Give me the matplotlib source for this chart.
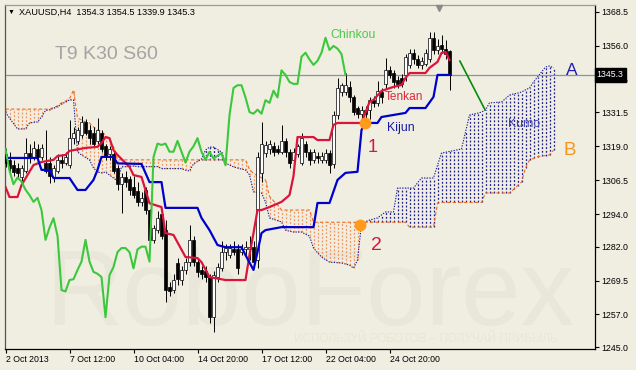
import matplotlib
matplotlib.use("Agg")
import matplotlib.pyplot as plt
import matplotlib.transforms as mtransforms

plt.rcParams['font.family'] = ['Liberation Sans', 'DejaVu Sans']

# ---- data (x = bar index, y = price) ----
opens = [1316.0, 1314.0, 1312.0, 1311.0, 1307.5, 1310.0, 1316.5, 1315.0, 1318.0, 1315.0,
         1313.0, 1313.0, 1307.5, 1310.0, 1314.0, 1313.0, 1312.0, 1322.0, 1321.0, 1323.0,
         1328.0, 1325.0, 1324.0, 1321.0, 1324.0, 1319.0, 1316.0, 1316.0, 1311.0, 1305.0,
         1307.5, 1307.0, 1304.0, 1302.5, 1298.5, 1303.0, 1295.5, 1284.5, 1288.0, 1294.0,
         1288.0, 1267.0, 1266.0, 1276.0, 1269.7, 1273.4, 1276.5, 1284.5, 1276.5, 1273.5,
         1273.0, 1271.0, 1256.0, 1271.0, 1274.0, 1280.0, 1279.0, 1281.0, 1281.0, 1280.0,
         1281.0, 1281.0, 1282.0, 1277.0, 1309.0, 1316.5, 1318.0, 1319.0, 1318.0, 1317.0,
         1321.0, 1317.0, 1314.0, 1316.0, 1313.0, 1320.0, 1317.0, 1314.0, 1315.5, 1314.0,
         1314.0, 1316.5, 1312.5, 1330.5, 1339.0, 1339.0, 1341.0, 1337.0, 1333.0, 1331.0,
         1332.5, 1332.5, 1336.0, 1335.0, 1339.0, 1342.0, 1347.0, 1346.0, 1343.5, 1344.0,
         1345.3, 1349.0, 1353.5, 1351.0, 1349.0, 1349.5, 1351.0, 1359.0, 1354.5, 1356.3,
         1355.0, 1354.3]
highs = [1318.5, 1317.0, 1314.0, 1313.0, 1312.0, 1322.0, 1320.0, 1321.0, 1320.0, 1320.0,
         1325.0, 1315.0, 1312.0, 1316.0, 1316.0, 1317.0, 1328.7, 1326.0, 1326.0, 1330.0,
         1329.0, 1327.0, 1326.0, 1329.5, 1325.0, 1320.0, 1319.0, 1317.0, 1312.0, 1309.0,
         1310.0, 1308.0, 1308.0, 1306.0, 1302.0, 1304.0, 1296.0, 1290.0, 1295.0, 1296.0,
         1292.0, 1269.0, 1272.0, 1278.0, 1275.0, 1278.0, 1290.0, 1286.0, 1278.0, 1275.0,
         1275.0, 1272.0, 1273.0, 1276.0, 1284.0, 1283.0, 1283.0, 1284.0, 1283.0, 1283.0,
         1284.0, 1286.0, 1284.0, 1317.0, 1328.0, 1321.0, 1321.5, 1320.5, 1319.5, 1327.0,
         1322.0, 1318.0, 1318.5, 1320.0, 1324.0, 1321.0, 1318.0, 1318.0, 1317.0, 1317.0,
         1318.0, 1317.5, 1332.0, 1344.0, 1342.5, 1346.0, 1343.0, 1338.0, 1334.0, 1334.0,
         1334.0, 1337.0, 1337.5, 1343.0, 1340.5, 1351.5, 1348.5, 1347.0, 1345.0, 1345.5,
         1353.0, 1355.0, 1355.0, 1352.5, 1352.0, 1355.0, 1361.2, 1361.0, 1358.5, 1360.0,
         1358.0, 1354.5]
lows = [1311.5, 1309.5, 1308.0, 1307.0, 1306.0, 1309.0, 1313.0, 1314.0, 1313.5, 1314.0,
        1309.0, 1305.5, 1306.0, 1309.0, 1311.0, 1312.0, 1311.0, 1320.0, 1320.0, 1322.0,
        1323.0, 1320.0, 1319.0, 1320.0, 1317.0, 1314.0, 1314.0, 1309.0, 1303.0, 1294.5,
        1304.0, 1301.0, 1300.0, 1297.0, 1297.0, 1294.0, 1283.0, 1283.5, 1287.0, 1285.0,
        1261.5, 1264.0, 1265.0, 1268.0, 1268.0, 1272.0, 1275.0, 1275.0, 1271.0, 1270.0,
        1269.0, 1254.0, 1250.5, 1269.0, 1273.0, 1277.0, 1278.0, 1279.0, 1272.0, 1279.0,
        1279.0, 1277.0, 1274.0, 1274.0, 1306.0, 1315.0, 1316.0, 1315.5, 1316.0, 1316.0,
        1315.0, 1311.0, 1312.0, 1315.0, 1312.0, 1315.0, 1312.0, 1313.0, 1313.0, 1313.0,
        1313.0, 1309.0, 1311.0, 1329.0, 1337.5, 1338.0, 1335.5, 1330.5, 1329.5, 1329.0,
        1328.0, 1329.0, 1333.5, 1334.0, 1335.0, 1340.0, 1344.0, 1340.5, 1340.5, 1341.0,
        1343.0, 1348.0, 1349.5, 1348.0, 1347.5, 1348.5, 1350.0, 1353.0, 1353.0, 1353.5,
        1351.0, 1339.9]
closes = [1313.0, 1311.0, 1309.5, 1309.0, 1311.0, 1316.5, 1314.5, 1318.5, 1315.0, 1318.5,
          1310.0, 1308.0, 1311.0, 1314.0, 1313.0, 1315.0, 1322.0, 1324.0, 1325.0, 1328.0,
          1324.0, 1322.0, 1320.0, 1325.0, 1318.0, 1315.0, 1318.0, 1310.0, 1305.0, 1307.5,
          1306.0, 1303.0, 1301.0, 1298.5, 1300.0, 1295.5, 1284.5, 1289.0, 1292.5, 1286.0,
          1266.0, 1265.5, 1269.7, 1270.0, 1273.4, 1276.5, 1284.5, 1276.5, 1272.7, 1272.0,
          1270.8, 1256.0, 1271.5, 1274.5, 1280.0, 1281.5, 1281.5, 1280.0, 1274.0, 1281.0,
          1282.0, 1282.0, 1276.5, 1315.0, 1320.0, 1319.5, 1320.0, 1317.0, 1317.0, 1321.0,
          1317.0, 1313.0, 1317.0, 1319.0, 1322.0, 1317.0, 1314.0, 1317.0, 1314.5, 1315.5,
          1316.5, 1312.0, 1330.5, 1340.5, 1341.5, 1341.5, 1337.0, 1331.6, 1331.0, 1332.5,
          1331.0, 1336.0, 1335.0, 1339.5, 1337.0, 1347.0, 1345.3, 1342.7, 1342.0, 1342.0,
          1352.0, 1353.5, 1351.0, 1349.0, 1350.5, 1353.5, 1359.0, 1354.5, 1356.0, 1355.0,
          1353.0, 1345.3]

tenkan_idx = [0, 1, 3, 4, 7, 9, 12, 13, 15, 16, 20, 23, 24, 25, 26, 27, 28, 31, 32, 34,
              36, 39, 40, 42, 45, 48, 49, 51, 55, 60, 61, 62, 63, 64, 66, 69, 71, 72, 73, 77,
              78, 81, 82, 83, 89, 91, 92, 94, 97, 99, 100, 101, 105, 106, 108, 109, 110, 111]
tenkan_val = [1304.0, 1300.3, 1300.3, 1304.7, 1312.1, 1313.2, 1314.0, 1315.4, 1315.8, 1317.3,
              1318.4, 1318.8, 1320.2, 1322.4, 1322.0, 1317.6, 1315.8, 1311.4, 1308.4, 1307.7,
              1298.0, 1296.6, 1287.0, 1286.3, 1278.2, 1277.8, 1276.3, 1270.8, 1269.7, 1269.7,
              1278.9, 1287.0, 1295.5, 1295.5, 1296.6, 1298.5, 1301.0, 1308.0, 1322.4, 1322.4,
              1321.3, 1321.3, 1326.9, 1327.6, 1327.6, 1335.3, 1336.1, 1339.4, 1340.9, 1341.6,
              1344.2, 1346.0, 1346.0, 1347.9, 1350.1, 1353.4, 1353.8, 1350.8]

kijun_idx = [0, 8, 9, 11, 12, 16, 18, 20, 22, 23, 24, 27, 28, 34, 36, 39, 40, 48, 49, 51,
             53, 55, 59, 60, 62, 63, 64, 65, 69, 77, 78, 81, 83, 85, 88, 89, 90, 93, 94, 100,
             101, 105, 107, 108, 111]
kijun_val = [1314.7, 1314.7, 1310.3, 1310.3, 1307.3, 1307.3, 1302.9, 1302.9, 1306.6, 1310.3,
             1315.1, 1315.1, 1312.7, 1312.5, 1305.8, 1305.8, 1296.3, 1296.3, 1292.6, 1288.1,
             1282.6, 1281.8, 1281.8, 1278.9, 1273.4, 1280.0, 1287.0, 1288.1, 1289.2, 1289.2,
             1298.1, 1298.1, 1306.6, 1309.2, 1309.6, 1325.0, 1327.6, 1327.6, 1329.8, 1331.3,
             1333.1, 1333.1, 1337.2, 1345.3, 1345.3]

# senkou spans, one value per bar (already shifted forward 26 bars)
span_a = [1331.6, 1329.4, 1327.4, 1325.4, 1325.4, 1325.4, 1327.6, 1327.8, 1328.0, 1329.8,
          1332.2, 1332.4, 1333.0, 1333.6, 1334.6, 1335.3, 1336.1, 1336.1, 1316.9, 1315.8,
          1314.9, 1314.0, 1311.0, 1309.5, 1309.2, 1309.5, 1308.4, 1307.3, 1306.2, 1311.4,
          1311.5, 1311.6, 1311.7, 1311.5, 1311.5, 1311.5, 1311.5, 1311.5, 1311.5, 1310.8,
          1310.8, 1310.8, 1310.8, 1310.8, 1310.8, 1310.2, 1309.9, 1312.5, 1313.4, 1314.3,
          1317.6, 1318.7, 1318.7, 1317.8, 1316.9, 1312.8, 1312.1, 1311.4, 1311.0, 1310.6,
          1310.3, 1308.5, 1302.2, 1302.0, 1301.8, 1298.5, 1292.6, 1292.1, 1291.6, 1291.1,
          1288.1, 1287.7, 1287.4, 1287.4, 1287.4, 1286.6, 1285.9, 1281.5, 1279.8, 1278.2,
          1277.2, 1276.3, 1276.2, 1276.1, 1276.0, 1275.6, 1275.2, 1274.1, 1277.0, 1290.5,
          1291.2, 1291.8, 1292.2, 1292.6, 1293.7, 1294.8, 1294.8, 1294.8, 1303.6, 1303.6,
          1303.6, 1303.6, 1303.6, 1305.5, 1307.3, 1307.3, 1307.3, 1307.3, 1312.0, 1316.5,
          1316.8, 1317.1, 1317.4, 1317.7, 1318.0, 1324.3, 1330.5, 1330.9, 1331.2, 1331.6,
          1332.4, 1335.0, 1335.1, 1335.2, 1335.3, 1336.6, 1337.9, 1338.3, 1338.6, 1339.0,
          1339.8, 1340.5, 1342.7, 1344.5, 1346.4, 1348.2, 1348.6, 1347.9]
span_b = [1332.7, 1332.7, 1332.7, 1332.7, 1332.7, 1332.7, 1332.7, 1332.7, 1332.7, 1332.7,
          1332.7, 1332.7, 1333.3, 1333.9, 1335.0, 1335.7, 1336.5, 1339.7, 1329.4, 1328.7,
          1328.0, 1327.6, 1326.1, 1325.2, 1324.3, 1323.2, 1321.3, 1318.7, 1314.0, 1314.0,
          1314.0, 1314.0, 1314.0, 1314.0, 1314.0, 1314.0, 1314.0, 1314.0, 1314.0, 1314.0,
          1314.0, 1314.0, 1314.0, 1314.0, 1314.0, 1314.0, 1314.0, 1314.0, 1314.0, 1314.0,
          1314.0, 1314.0, 1314.0, 1314.0, 1314.0, 1314.0, 1314.0, 1314.0, 1314.0, 1314.0,
          1314.0, 1310.5, 1309.0, 1308.2, 1307.4, 1306.6, 1300.5, 1298.9, 1297.4, 1295.5,
          1295.5, 1295.5, 1295.5, 1295.5, 1295.5, 1295.5, 1295.5, 1291.0, 1291.0, 1291.0,
          1291.0, 1291.0, 1291.0, 1291.0, 1291.0, 1291.0, 1291.0, 1291.0, 1291.0, 1291.0,
          1291.0, 1291.0, 1291.0, 1291.0, 1291.0, 1291.0, 1291.0, 1291.0, 1291.0, 1291.0,
          1291.0, 1289.2, 1289.2, 1289.2, 1289.2, 1289.2, 1289.2, 1289.2, 1298.1, 1298.3,
          1298.3, 1298.3, 1298.3, 1298.3, 1298.3, 1298.3, 1298.3, 1298.3, 1298.3, 1298.3,
          1301.8, 1301.8, 1301.8, 1301.8, 1301.8, 1301.8, 1301.8, 1303.1, 1304.5, 1305.8,
          1311.0, 1314.0, 1314.5, 1315.1, 1315.4, 1315.6, 1315.8, 1317.6]

CHINKOU_SHIFT = 26
date_ticks = [0, 16, 32, 48, 64, 80, 96]
date_labels = ["2 Oct 2013", "7 Oct 12:00", "10 Oct 04:00", "14 Oct 20:00",
               "17 Oct 12:00", "22 Oct 04:00", "24 Oct 20:00"]
price_ticks = [1368.5, 1356.0, 1343.5, 1331.5, 1319.0, 1306.5, 1294.0,
               1282.0, 1269.5, 1257.0, 1245.0]
last_price = 1345.3
cross_points = [(89.9, 1327.6, "1"), (88.6, 1290.0, "2")]   # tenkan/kijun cross, kumo twist
arrow_i = [113.6, 119.9]
arrow_p = [1350.4, 1332.4]

# colours
BG = '#F0EEE1'
WATERMARK = '#E8E7DA'
TENKAN = '#DC143C'
KIJUN = '#0000CD'
CHINKOU = '#3CC83C'
SPAN_A = '#1C1C9C'
SPAN_B = '#F26A22'
HATCH_A = '#1E1E8E'
HATCH_B = '#F2945E'

fig = plt.figure(figsize=(6.36, 3.70), dpi=100, facecolor=BG)
ax = fig.add_axes([5 / 636, 21 / 370, 590 / 636, 344 / 370], facecolor=BG)
ax.set_xlim(-0.125, 147.375)
ax.set_ylim(1244.28, 1371.08)

# watermark
ax.text(9.9, 1253.1, "RoboForex", fontsize=77, color=WATERMARK, zorder=0.2,
        ha='left', va='baseline')
ax.text(72, 1246.8, "ИСПОЛЬЗУЙ РОБОТОВ – ПОЛУЧАЙ ПРИБЫЛЬ", fontsize=8.5,
        color=WATERMARK, zorder=0.2, ha='left', va='baseline')

# kumo: dotted vertical hatch per bar
cloud_x = list(range(len(span_a)))
lo = [min(a, b) for a, b in zip(span_a, span_b)]
hi = [max(a, b) for a, b in zip(span_a, span_b)]
cols = [HATCH_A if a > b else HATCH_B for a, b in zip(span_a, span_b)]
ax.vlines(cloud_x, lo, hi, colors=cols, linewidth=0.9,
          linestyles=(0, (1.5, 1.5)), zorder=1)
ax.plot(cloud_x, span_b, color=SPAN_B, lw=0.8, ls=(0, (3, 2)), zorder=1.5)
ax.plot(cloud_x, span_a, color=SPAN_A, lw=0.8, ls=(0, (1.2, 1.2)), zorder=1.6)

# current price line
ax.axhline(last_price, color='#8A949E', lw=0.9, zorder=2)

# candles
idx = list(range(len(closes)))
ax.vlines(idx, lows, highs, color='black', lw=0.7, zorder=3)
body_lo = [min(o, c) for o, c in zip(opens, closes)]
body_h = [max(abs(c - o), 0.35) for o, c in zip(opens, closes)]
body_c = ['white' if c >= o else 'black' for o, c in zip(opens, closes)]
ax.bar(idx, body_h, bottom=body_lo, width=0.62, color=body_c,
       edgecolor='black', linewidth=0.5, zorder=3.2)

# ichimoku lines
ax.plot(tenkan_idx, tenkan_val, color=TENKAN, lw=1.6, zorder=4)
ax.plot(kijun_idx, kijun_val, color=KIJUN, lw=1.6, zorder=4.1)
ax.plot(idx[:-CHINKOU_SHIFT], closes[CHINKOU_SHIFT:], color=CHINKOU, lw=1.5, zorder=4.2)

# annotations
ax.plot(arrow_i, arrow_p, color='#0A8A0A', lw=1.2, zorder=5)
for ci, cp, _ in cross_points:
    ax.plot(ci, cp, 'o', color='#FF9A1A', markersize=8.5, markeredgewidth=0, zorder=5)
ax.text(90.6, 1318.7, "1", color=TENKAN, fontsize=13, ha='left', va='center', zorder=6)
ax.text(91.4, 1282.6, "2", color=TENKAN, fontsize=14, ha='left', va='center', zorder=6)
ax.text(81.1, 1360.0, "Chinkou", color='#4CC84C', fontsize=8.8, ha='left', va='center', zorder=6)
ax.text(94.9, 1337.3, "Tenkan", color='#E0283C', fontsize=8.6, ha='left', va='center', zorder=6)
ax.text(95.4, 1325.7, "Kijun", color='#1818A8', fontsize=8.8, ha='left', va='center', zorder=6)
ax.text(125.6, 1327.2, "Kumo", color='#4646B0', fontsize=8.8, ha='left', va='center', zorder=6)
ax.text(140.1, 1346.8, "A", color='#2020B0', fontsize=12.5, ha='left', va='center', zorder=6)
ax.text(139.4, 1317.6, "B", color='#F7941D', fontsize=13.5, ha='left', va='center', zorder=6)
ax.text(12.4, 1352.7, "T9 K30 S60", color='#A4A4A4', fontsize=14, ha='left', va='center', zorder=6)
ax.plot(108.4, 1369.9, 'v', color='#8A8A8A', markersize=5, clip_on=False, zorder=6)

# axes styling (MT4 look)
ax.yaxis.tick_right()
ax.set_yticks(price_ticks)
ax.set_yticklabels([f"{p:.1f}" for p in price_ticks])
ax.set_xticks(date_ticks)
ax.set_xticklabels(date_labels, ha='left')
ax.tick_params(axis='both', direction='out', length=3, width=0.8, labelsize=6.3,
               pad=1.5, colors='black')
ax.spines['right'].set_color('black')
ax.spines['bottom'].set_color('black')
ax.spines['left'].set_color('#555555')
ax.spines['top'].set_color('#9A9A9A')
for s in ax.spines.values():
    s.set_linewidth(0.9)

trans = mtransforms.blended_transform_factory(ax.transAxes, ax.transData)
ax.text(1.003, last_price, f"{last_price:.1f}", transform=trans, ha='left', va='center',
        fontsize=6.3, color='white', zorder=10, clip_on=False,
        bbox=dict(boxstyle='square,pad=0.25', fc='black', ec='black'))

# header
fig.text(8 / 636, 1 - 12 / 370, "▼", fontsize=5, va='center', ha='left')
fig.text(19 / 636, 1 - 12 / 370, "XAUUSD,H4  1354.3 1354.5 1339.9 1345.3",
         fontsize=6.6, va='center', ha='left')

fig.savefig("out.png", dpi=100, facecolor=BG)
